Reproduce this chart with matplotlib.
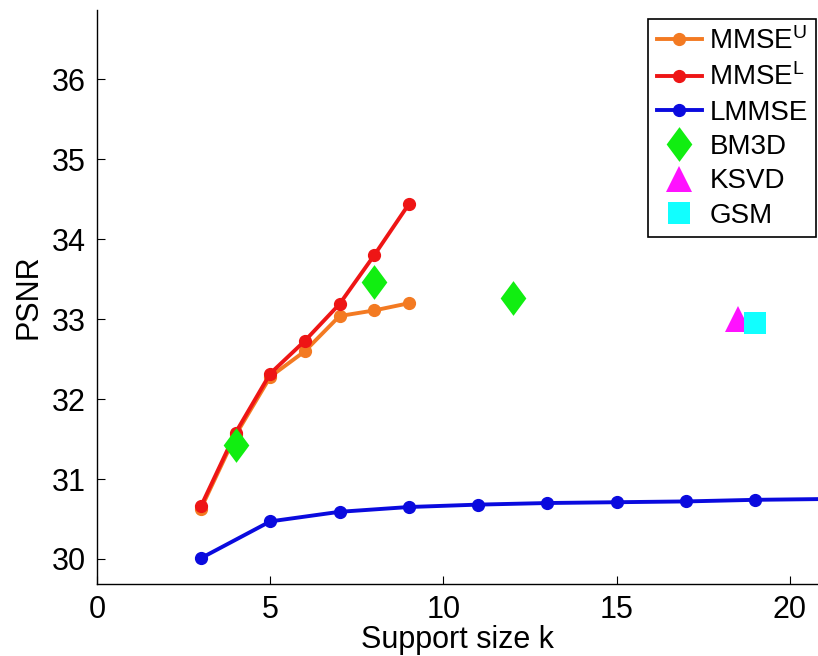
import matplotlib
matplotlib.use("Agg")
import matplotlib.pyplot as plt
import numpy as np

plt.rcParams["font.family"] = ["Liberation Sans", "DejaVu Sans"]
plt.rcParams["mathtext.fontset"] = "custom"
plt.rcParams["mathtext.rm"] = "Liberation Sans"
plt.rcParams["mathtext.it"] = "Liberation Sans"

# data
k_mmse = [3, 4, 5, 6, 7, 8, 9]
psnr_mmse_u = [30.63, 31.55, 32.28, 32.60, 33.04, 33.11, 33.20]
psnr_mmse_l = [30.66, 31.58, 32.32, 32.73, 33.19, 33.80, 34.44]
k_lmmse = [3, 5, 7, 9, 11, 13, 15, 17, 19, 21]
psnr_lmmse = [30.01, 30.47, 30.59, 30.65, 30.68, 30.70, 30.71, 30.72, 30.74, 30.75]
k_bm3d = [4, 8, 12]
psnr_bm3d = [31.43, 33.46, 33.26]
k_ksvd = [18.5]
psnr_ksvd = [33.0]
k_gsm = [19]
psnr_gsm = [32.95]

# slightly thin diamond like the matlab one
diamond = [(0, 1), (0.74, 0), (0, -1), (-0.74, 0), (0, 1)]

fig = plt.figure(figsize=(8.18, 6.56), dpi=100)
ax = fig.add_axes([0.1186, 0.1098, 0.8814, 0.875])

lw = 2.8
ax.plot(k_mmse, psnr_mmse_u, "-o", color="#F37A22", lw=lw, ms=8.5,
        label="MMSE$^{\\mathrm{U}}$", zorder=3)
ax.plot(k_mmse, psnr_mmse_l, "-o", color="#EE1515", lw=lw, ms=8.5,
        label="MMSE$^{\\mathrm{L}}$", zorder=4)
ax.plot(k_lmmse, psnr_lmmse, "-o", color="#0A0ADE", lw=lw, ms=8.5,
        label="LMMSE", zorder=3)
ax.plot(k_bm3d, psnr_bm3d, linestyle="none", marker=diamond, color="#11EE11",
        ms=25, mew=0, label="BM3D", zorder=5)
ax.plot(k_ksvd, psnr_ksvd, linestyle="none", marker="^", color="#FF11FF",
        ms=19, mew=0, label="KSVD", zorder=5)
ax.plot(k_gsm, psnr_gsm, linestyle="none", marker="s", color="#11FFFF",
        ms=16, mew=0, label="GSM", zorder=6)

ax.set_xlim(0, 20.81)
ax.set_ylim(29.687, 36.87)
ax.set_xticks([0, 5, 10, 15, 20])
ax.set_yticks([30, 31, 32, 33, 34, 35, 36])
ax.spines["top"].set_visible(False)
ax.spines["right"].set_visible(False)
ax.spines["left"].set_linewidth(1.0)
ax.spines["bottom"].set_linewidth(1.0)
ax.tick_params(direction="in", length=6, width=0.8, labelsize=22, pad=8)

ax.set_xlabel("Support size k", fontsize=22, labelpad=0)
ax.set_ylabel("PSNR", fontsize=22, labelpad=6)

leg = ax.legend(loc="upper right", bbox_to_anchor=(0.9976, 0.971),
                bbox_transform=fig.transFigure, fontsize=20, frameon=True,
                fancybox=False, framealpha=1, edgecolor="black",
                handlelength=1.65, handletextpad=0.25, labelspacing=0.3,
                borderpad=0.3, borderaxespad=0, markerscale=1.0)
leg.get_frame().set_linewidth(1.2)

fig.savefig("out.png", dpi=100)
